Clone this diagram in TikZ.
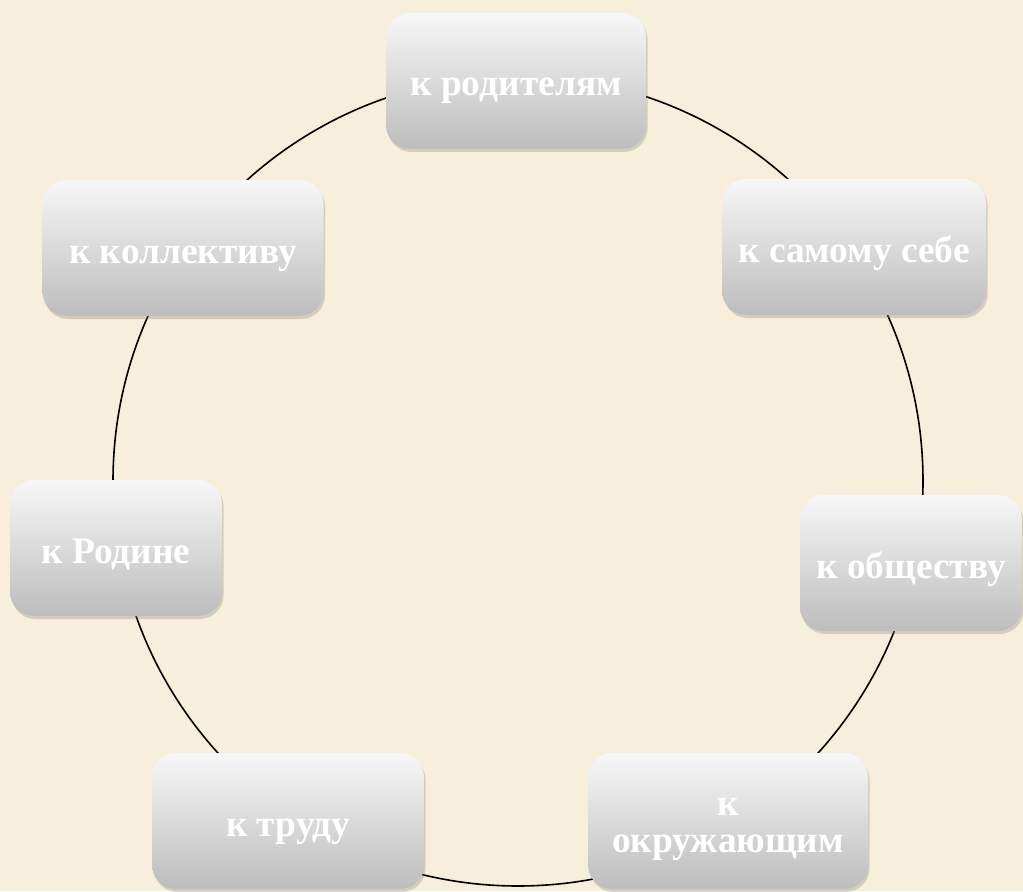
\documentclass[tikz,border=0pt]{standalone}
\usepackage{fontspec}
\setmainfont{Liberation Serif}
\usepackage{tikz}
\usetikzlibrary{shadows}
\definecolor{paper}{HTML}{F7EEDB}
\tikzstyle{relbox} = [rectangle, rounded corners=12pt,
minimum height=68pt,
text centered, align=center,
text height=15pt, text depth=0pt,
top color=white!97!black,
bottom color=white!74!black,
drop shadow={opacity=0.3, shadow xshift=0.8pt, shadow yshift=-1.5pt},
text=white,
font=\bfseries\fontsize{18.7}{18.5}\selectfont]
\tikzstyle{ring} = [line width=0.8pt, black]

\begin{document}
\begin{tikzpicture}[x=0.5pt, y=0.5pt]
\useasboundingbox (0,0) rectangle (1023,891);
\fill[paper] (0,0) rectangle (1023,891);

% the ring runs behind the boxes
\coordinate (hub) at (518,410);
\draw [ring] (hub) circle [radius=405];

\node (parents) [relbox, minimum width=130pt] at (516,810) {к родителям};
\node (self) [relbox, minimum width=132pt] at (854,644) {к самому себе};
\node (society) [relbox, minimum width=111pt] at (911,328) {к обществу};
\node (others) [relbox, minimum width=140pt, text height=31.6pt] at (728,70) {к\\окружающим};
\node (labour) [relbox, minimum width=136pt] at (288,70) {к труду};
\node (homeland) [relbox, minimum width=106pt] at (116,343) {к Родине};
\node (team) [relbox, minimum width=140.5pt] at (183,643) {к коллективу};
\end{tikzpicture}
\end{document}
